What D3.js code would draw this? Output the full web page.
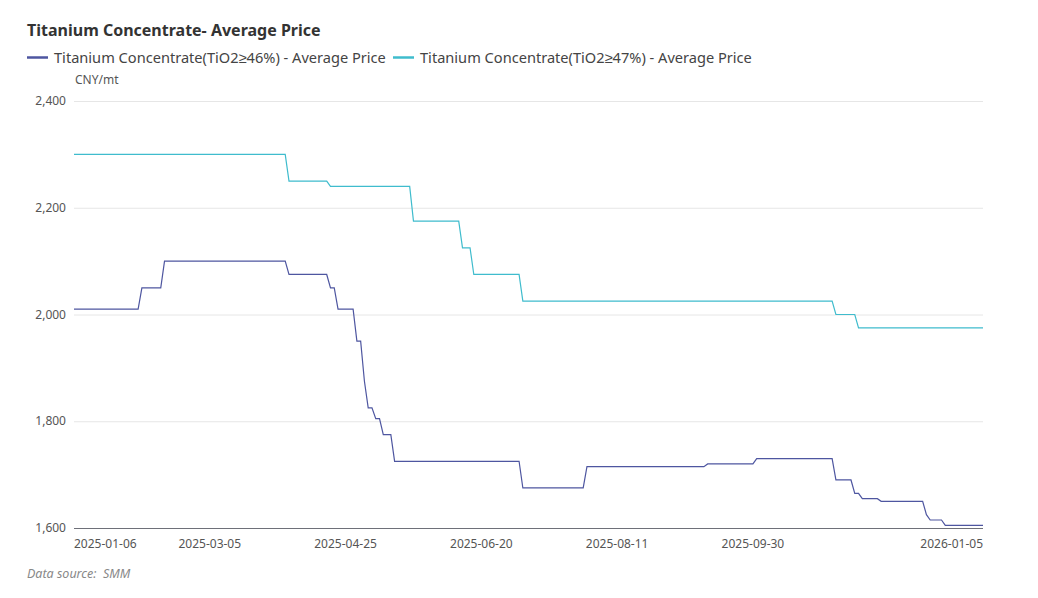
<!DOCTYPE html>
<html>
<head>
<meta charset="utf-8">
<script src="https://cdn.jsdelivr.net/npm/d3@7"></script>
<style>
  body { margin: 0; background: #fff; font-family: "Noto Sans", sans-serif; }
  #chart { width: 1038px; height: 598px; }
</style>
</head>
<body>
<div id="chart"></div>
<script>
// days with no quote (weekday holidays), used to build the trading-day axis
var holidays = ["2025-01-28", "2025-01-29", "2025-01-30", "2025-01-31", "2025-02-03", "2025-02-04",
                "2025-04-04", "2025-05-01", "2025-05-02", "2025-05-05", "2025-06-02",
                "2025-10-01", "2025-10-02", "2025-10-03", "2025-10-06", "2025-10-07", "2025-10-08",
                "2026-01-01", "2026-01-02"];
var firstDay = "2025-01-06";
var lastDay = "2026-01-05";

var tickLabels = ["2025-01-06", "2025-03-05", "2025-04-25", "2025-06-20", "2025-08-11", "2025-09-30", "2026-01-05"];
var yTicks = [1600, 1800, 2000, 2200, 2400];

var seriesNames = ["Titanium Concentrate(TiO2\u226546%) - Average Price",
                   "Titanium Concentrate(TiO2\u226547%) - Average Price"];
var seriesColors = ["#4e56a0", "#3fbccd"];

// price change points (line vertices)
var dates46 = ["2025-01-06", "2025-02-06", "2025-02-07", "2025-02-14", "2025-02-17", "2025-04-02", "2025-04-03",
               "2025-04-18", "2025-04-21", "2025-04-22", "2025-04-23", "2025-04-29", "2025-04-30", "2025-05-06",
               "2025-05-07", "2025-05-08", "2025-05-09", "2025-05-12", "2025-05-13", "2025-05-14", "2025-05-16",
               "2025-05-19", "2025-07-04", "2025-07-07", "2025-07-29", "2025-07-30", "2025-09-11", "2025-09-12",
               "2025-09-30", "2025-10-09", "2025-11-06", "2025-11-07", "2025-11-13", "2025-11-14", "2025-11-17",
               "2025-11-18", "2025-11-24", "2025-11-25", "2025-12-10", "2025-12-11", "2025-12-12", "2025-12-17",
               "2025-12-18", "2026-01-05"];
var values46 = [2010, 2010, 2050, 2050, 2100, 2100, 2075,
                2075, 2050, 2050, 2010, 2010, 1950, 1950,
                1875, 1825, 1825, 1805, 1805, 1775, 1775,
                1725, 1725, 1675, 1675, 1715, 1715, 1720,
                1720, 1730, 1730, 1690, 1690, 1665, 1665,
                1655, 1655, 1650, 1650, 1625, 1615, 1615,
                1605, 1605];

var dates47 = ["2025-01-06", "2025-04-02", "2025-04-03", "2025-04-18", "2025-04-21", "2025-05-23", "2025-05-26",
               "2025-06-12", "2025-06-13", "2025-06-17", "2025-06-18", "2025-07-04", "2025-07-07", "2025-11-06",
               "2025-11-07", "2025-11-14", "2025-11-17", "2026-01-05"];
var values47 = [2300, 2300, 2250, 2250, 2240, 2240, 2175,
                2175, 2125, 2125, 2075, 2075, 2025, 2025,
                2000, 2000, 1975, 1975];

var fmt = d3.utcFormat("%Y-%m-%d");
var tradingDays = d3.utcDays(new Date(firstDay), d3.utcDay.offset(new Date(lastDay), 1))
    .filter(function(d) { return d.getUTCDay() != 0 && d.getUTCDay() != 6; })
    .map(fmt)
    .filter(function(s) { return holidays.indexOf(s) < 0; });

var fullwidth = 1038;
var fullheight = 598;
var margin = {top: 101, right: 55, bottom: 70, left: 74};
var width = fullwidth - margin.left - margin.right;
var height = fullheight - margin.top - margin.bottom;

var vis = d3.select("#chart").append("svg")
    .attr("width", fullwidth)
    .attr("height", fullheight);

var svg = vis.append("g")
    .attr("transform", "translate(" + margin.left + "," + margin.top + ")");

var xScale = d3.scalePoint()
    .domain(tradingDays)
    .range([0, width]);

var yScale = d3.scaleLinear()
    .domain([1600, 2400])
    .range([height, 0]);

// title + legend
vis.append("text")
    .attr("x", 27)
    .attr("y", 36)
    .attr("font-size", 16)
    .attr("font-weight", "bold")
    .attr("fill", "#333")
    .text("Titanium Concentrate- Average Price");

var legendX = [27, 393];
seriesNames.forEach(function(name, i) {
    vis.append("line")
        .attr("x1", legendX[i]).attr("x2", legendX[i] + 21)
        .attr("y1", 57.5).attr("y2", 57.5)
        .attr("stroke", seriesColors[i])
        .attr("stroke-width", 2.5);
    vis.append("text")
        .attr("x", legendX[i] + 27)
        .attr("y", 62.5)
        .attr("font-size", 14.6)
        .attr("fill", "#444")
        .text(name);
});

vis.append("text")
    .attr("x", 75)
    .attr("y", 84)
    .attr("font-size", 12)
    .attr("fill", "#555")
    .text("CNY/mt");

// grid + y labels
svg.selectAll("line.grid")
    .data(yTicks.slice(1))
    .enter()
    .append("line")
    .attr("class", "grid")
    .attr("x1", 0).attr("x2", width)
    .attr("y1", function(d) { return yScale(d) + 0.5; })
    .attr("y2", function(d) { return yScale(d) + 0.5; })
    .attr("stroke", "#e6e6e6");

svg.selectAll("text.ylab")
    .data(yTicks)
    .enter()
    .append("text")
    .attr("class", "ylab")
    .attr("x", -8)
    .attr("y", function(d) { return yScale(d); })
    .attr("dy", "0.35em")
    .attr("text-anchor", "end")
    .attr("font-size", 12)
    .attr("fill", "#555")
    .text(d3.format(","));

// x axis
svg.append("line")
    .attr("x1", 0).attr("x2", width)
    .attr("y1", height + 0.5).attr("y2", height + 0.5)
    .attr("stroke", "#6e7079");

svg.selectAll("text.xlab")
    .data(tickLabels)
    .enter()
    .append("text")
    .attr("class", "xlab")
    .attr("x", function(d) { return xScale(d); })
    .attr("y", height + 20)
    .attr("text-anchor", function(d, i) {
        if (i == 0) return "start";
        if (i == tickLabels.length - 1) return "end";
        return "middle";
    })
    .attr("font-size", 12)
    .attr("fill", "#555")
    .text(function(d) { return d; });

// lines
var line = d3.line()
    .x(function(d) { return xScale(d[0]); })
    .y(function(d) { return yScale(d[1]); });

var lineData = [d3.zip(dates46, values46), d3.zip(dates47, values47)];

svg.selectAll("path.series")
    .data(lineData)
    .enter()
    .append("path")
    .attr("class", "series")
    .attr("fill", "none")
    .attr("stroke", function(d, i) { return seriesColors[i]; })
    .attr("stroke-width", 1.2)
    .attr("d", line);

vis.append("text")
    .attr("x", 27)
    .attr("y", 578)
    .attr("font-size", 12.5)
    .attr("font-style", "italic")
    .attr("fill", "#888")
    .attr("xml:space", "preserve")
    .style("white-space", "pre")
    .text("Data source:\u00a0\u00a0SMM");
</script>
</body>
</html>
